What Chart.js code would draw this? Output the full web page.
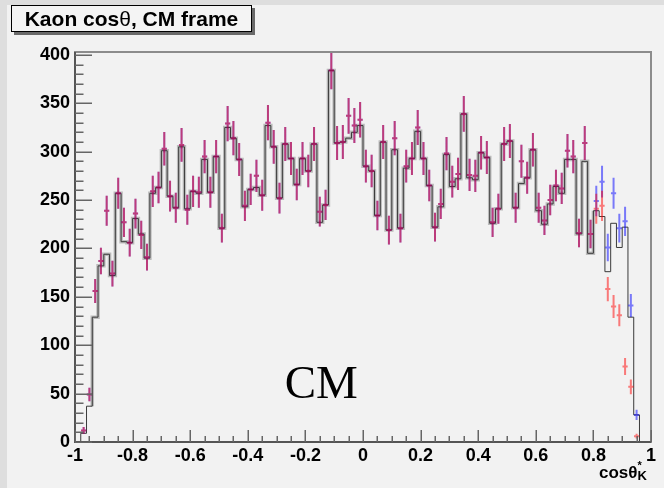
<!DOCTYPE html>
<html>
<head>
<meta charset="utf-8">
<script src="https://cdn.jsdelivr.net/npm/chart.js@4.4.1/dist/chart.umd.min.js"></script>
<style>
html, body { margin: 0; padding: 0; background: #dedede; }
#wrap { position: relative; width: 664px; height: 488px; overflow: hidden; }
#c { position: absolute; left: 0; top: 0; }
#title {
    position: absolute; left: 11px; top: 5px; width: 239px; height: 25px;
    border: 1px solid #000; background: #f4f4f4; box-shadow: 3px 3px 0 #6a6a6a;
    font: bold 21px "Liberation Sans", Arial, sans-serif; line-height: 25px;
    text-align: center; white-space: nowrap; color: #000;
}
.sym { font-weight: normal; }
#xtitle {
    position: absolute; left: 599px; top: 462px; line-height: 18px;
    font: bold 17px "Liberation Sans", Arial, sans-serif; white-space: nowrap; color: #000;
}
.ss { display: inline-block; position: relative; width: 10px; height: 16px; }
.ss .sup { position: absolute; left: 0; top: -3px; font-size: 11px; }
.ss .sub { position: absolute; left: 0; top: 6px; font-size: 13px; }
</style>
</head>
<body>
<div id="wrap">
    <canvas id="c" width="664" height="488"></canvas>
    <div id="title">Kaon cos<span class="sym">θ</span>, CM frame</div>
    <div id="xtitle">cosθ<span class="ss"><span class="sup">*</span><span class="sub">K</span></span></div>
</div>
<script>
// --- DATA ---
// 100 bins of width 0.02 between -1 and 1
const binLow = -1;
const binWidth = 0.02;

// histogram (step line), one value per bin
const histVals = [
    0, 9, 37, 129, 182, 194, 172, 257, 207, 206,
    231, 215, 190, 257, 263, 301, 254, 242, 305, 241,
    259, 257, 292, 258, 295, 221, 325, 314, 292, 243,
    261, 263, 255, 327, 305, 252, 308, 293, 266, 293,
    280, 308, 227, 245, 384, 309, 310, 314, 320, 327,
    285, 280, 234, 310, 219, 302, 221, 283, 293, 321,
    293, 265, 222, 243, 297, 264, 272, 339, 273, 271,
    299, 294, 226, 241, 308, 311, 242, 267, 273, 302,
    239, 225, 246, 264, 257, 292, 292, 215, 290, 195,
    239, 233, 176, 226, 201, 222, 129, 28, 0, 0
];

// data points where the red and blue sets coincide (bins 0-89)
const sharedVals = [
    null, 12, 49, 156, 187, 239, 174, 257, 227, 206,
    236, 214, 191, 259, 263, 303, 254, 242, 307, 240,
    259, 258, 295, 258, 295, 221, 329, 314, 292, 244,
    261, 275, 255, 330, 305, 252, 308, 293, 266, 293,
    280, 308, 238, 245, 384, 309, 310, 337, 327, 333,
    285, 280, 234, 310, 219, 314, 221, 285, 293, 325,
    293, 265, 222, 246, 298, 269, 277, 339, 276, 275,
    299, 294, 227, 241, 308, 311, 242, 290, 273, 302,
    242, 229, 250, 265, 262, 301, 295, 216, 309, 215
];
// bins 90-99, where they split
const redTailVals  = [241, 244, 158, 140, 131, 78, 57, 6, null, null];
const blueTailVals = [249, 269, 201, 257, 221, 228, 141, 28, null, null];

const redVals = sharedVals.concat(redTailVals);
const blueVals = sharedVals.concat(blueTailVals);

// --- HELPERS ---
const edge = i => binLow + i * binWidth;

// points at bin edges for a step line
function stepPoints(vals, first, last) {
    const pts = [{ x: edge(first), y: first > 0 ? vals[first - 1] : 0 }];
    for (let i = first; i <= last; i++) pts.push({ x: edge(i), y: vals[i] });
    pts.push({ x: edge(last + 1), y: last < vals.length - 1 ? vals[last + 1] : 0 });
    return pts;
}

// error crosses as separate segments (null breaks the line), Poisson errors
function errorBars(vals) {
    const pts = [];
    vals.forEach((v, i) => {
        if (v === null) return;
        const c = binLow + (i + 0.5) * binWidth;
        const e = Math.sqrt(v);
        pts.push({ x: c, y: v - e }, { x: c, y: v + e }, { x: c, y: null });
        pts.push({ x: c - 0.45 * binWidth, y: v }, { x: c + 0.45 * binWidth, y: v }, { x: c, y: null });
    });
    return pts;
}

// --- FRAME, TICKS AND LABEL ---
const rootFrame = {
    id: 'rootFrame',
    beforeDraw(chart) {
        const { ctx, width, height } = chart;
        ctx.save();
        ctx.fillStyle = '#dedede';
        ctx.fillRect(0, 0, width, height);
        ctx.fillStyle = '#f2f2f2';
        ctx.fillRect(7, 5, width - 7, height - 5);
        ctx.restore();
    },
    afterDraw(chart) {
        const { ctx, chartArea: a, scales: { x, y } } = chart;
        ctx.save();
        ctx.lineWidth = 2;
        ctx.strokeStyle = '#8c8c8c';
        ctx.strokeRect(a.left, a.top, a.right - a.left, a.bottom - a.top);
        ctx.strokeStyle = '#555';
        ctx.beginPath();
        ctx.moveTo(a.left, a.top);
        ctx.lineTo(a.left, a.bottom);
        ctx.lineTo(a.right, a.bottom);
        ctx.stroke();

        // inward ticks
        ctx.lineWidth = 1.5;
        ctx.strokeStyle = '#666';
        ctx.beginPath();
        for (let v = 0; v <= y.max; v += 10) {
            const py = Math.round(y.getPixelForValue(v)) + 0.25;
            ctx.moveTo(a.left, py);
            ctx.lineTo(a.left + (v % 50 === 0 ? 17 : 8.5), py);
        }
        for (let i = 0; i <= 40; i++) {
            const px = Math.round(x.getPixelForValue(-1 + i * 0.05)) + 0.25;
            ctx.moveTo(px, a.bottom);
            ctx.lineTo(px, a.bottom - (i % 4 === 0 ? 12 : 6));
        }
        ctx.stroke();

        ctx.fillStyle = '#000';
        ctx.font = '47px "Liberation Serif", "Times New Roman", serif';
        ctx.textBaseline = 'alphabetic';
        ctx.fillText('CM', x.getPixelForValue(-0.272), y.getPixelForValue(45));
        ctx.restore();
    }
};

const tickFont = { family: '"Liberation Sans", Arial, sans-serif', size: 18, weight: 'bold' };

const config = {
    type: 'line',
    data: {
        datasets: [
            { label: 'red', data: errorBars(redVals), borderColor: 'rgba(255,0,0,0.5)', borderWidth: 2 },
            { label: 'blue', data: errorBars(blueVals), borderColor: 'rgba(0,0,255,0.5)', borderWidth: 2 },
            { label: 'hist', data: stepPoints(histVals, 0, 99), stepped: 'before', borderColor: '#3a3a3a', borderWidth: 1 },
            { label: 'hist2', data: stepPoints(histVals, 3, 89), stepped: 'before', borderColor: 'rgba(120,120,120,0.45)', borderWidth: 3.5 }
        ]
    },
    options: {
        responsive: false,
        animation: false,
        devicePixelRatio: 1,
        layout: { padding: { left: 0, top: 52, right: 13, bottom: 0 } },
        elements: {
            point: { radius: 0, hoverRadius: 0 },
            line: { tension: 0, fill: false, borderCapStyle: 'butt' }
        },
        plugins: { legend: { display: false }, tooltip: { enabled: false } },
        scales: {
            x: {
                type: 'linear',
                min: -1,
                max: 1,
                grid: { display: false, drawTicks: false },
                border: { display: false },
                afterFit: s => { s.height = 46; },
                ticks: {
                    stepSize: 0.2,
                    font: tickFont,
                    color: '#000',
                    padding: 3,
                    maxRotation: 0,
                    callback: v => String(Number(v.toFixed(1)))
                }
            },
            y: {
                min: 0,
                max: 403,
                grid: { display: false, drawTicks: false },
                border: { display: false },
                afterFit: s => { s.width = 75; },
                ticks: {
                    stepSize: 50,
                    includeBounds: false,
                    font: tickFont,
                    color: '#000',
                    padding: 5
                }
            }
        }
    },
    plugins: [rootFrame]
};

window.onload = () => {
    new Chart(document.getElementById('c').getContext('2d'), config);
};
</script>
</body>
</html>
